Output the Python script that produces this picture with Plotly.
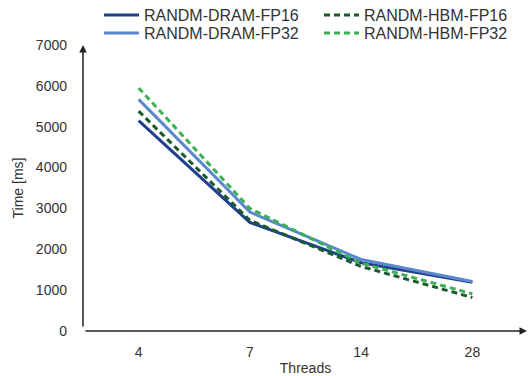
import plotly.graph_objects as go

threads = ["4", "7", "14", "28"]
dram_fp16 = [5150, 2660, 1670, 1190]
dram_fp32 = [5670, 2910, 1750, 1210]
hbm_fp16 = [5380, 2710, 1580, 820]
hbm_fp32 = [5950, 3000, 1660, 910]

series = [
    ("RANDM-DRAM-FP16", dram_fp16, "#213f8e", "solid", "legend"),
    ("RANDM-HBM-FP16", hbm_fp16, "#1a5b2b", "6px,4px", "legend"),
    ("RANDM-DRAM-FP32", dram_fp32, "#5b88cc", "solid", "legend2"),
    ("RANDM-HBM-FP32", hbm_fp32, "#3cb054", "6px,4px", "legend2"),
]

fig = go.Figure()
for name, vals, color, dash, leg in series:
    fig.add_trace(go.Scatter(x=threads, y=vals, name=name, mode="lines", legend=leg,
                             line=dict(color=color, width=3, dash=dash)))

FONT = "Liberation Sans, Arial, sans-serif"
font_tick = dict(family=FONT, size=14, color="#333333")
leg_common = dict(orientation="h", xref="container", xanchor="left",
                  yref="container", yanchor="middle", entrywidth=170, entrywidthmode="pixels",
                  font=dict(family=FONT, size=16, color="#333333"),
                  itemwidth=35, bgcolor="rgba(0,0,0,0)", borderwidth=0)
leg1 = dict(leg_common); leg1.update(x=99 / 528, y=1 - 15 / 376)
leg2 = dict(leg_common); leg2.update(x=99 / 528, y=1 - 33 / 376)

fig.update_layout(
    width=528, height=376,
    margin=dict(l=83, r=0, t=45, b=45, autoexpand=False),
    plot_bgcolor="white", paper_bgcolor="white",
    showlegend=True,
    legend=leg1, legend2=leg2,
    xaxis=dict(type="category", range=[-0.5, 3.5], showline=False, showgrid=False,
               zeroline=False, tickfont=font_tick, ticks="", ticklabelstandoff=11,
               title=dict(text="Threads", font=font_tick, standoff=5)),
    yaxis=dict(range=[0, 7000], dtick=1000, showline=False, showgrid=False,
               zeroline=False, tickfont=font_tick, ticks="", ticklabelstandoff=15,
               title=dict(text="Time [ms]", font=font_tick, standoff=8)),
)

# axis arrows
fig.add_annotation(x=0, y=1, xref="paper", yref="paper", ax=0, ay=283, text="",
                   showarrow=True, arrowhead=2, arrowsize=1, arrowwidth=1.5, arrowcolor="#222222")
fig.add_annotation(x=1, y=0, xref="paper", yref="paper", ax=-444, ay=0, text="",
                   showarrow=True, arrowhead=2, arrowsize=1, arrowwidth=1.5, arrowcolor="#222222")

fig.write_html("out.html", config={"displayModeBar": False},
               post_script="document.body.style.margin='0';document.body.style.padding='0';")
